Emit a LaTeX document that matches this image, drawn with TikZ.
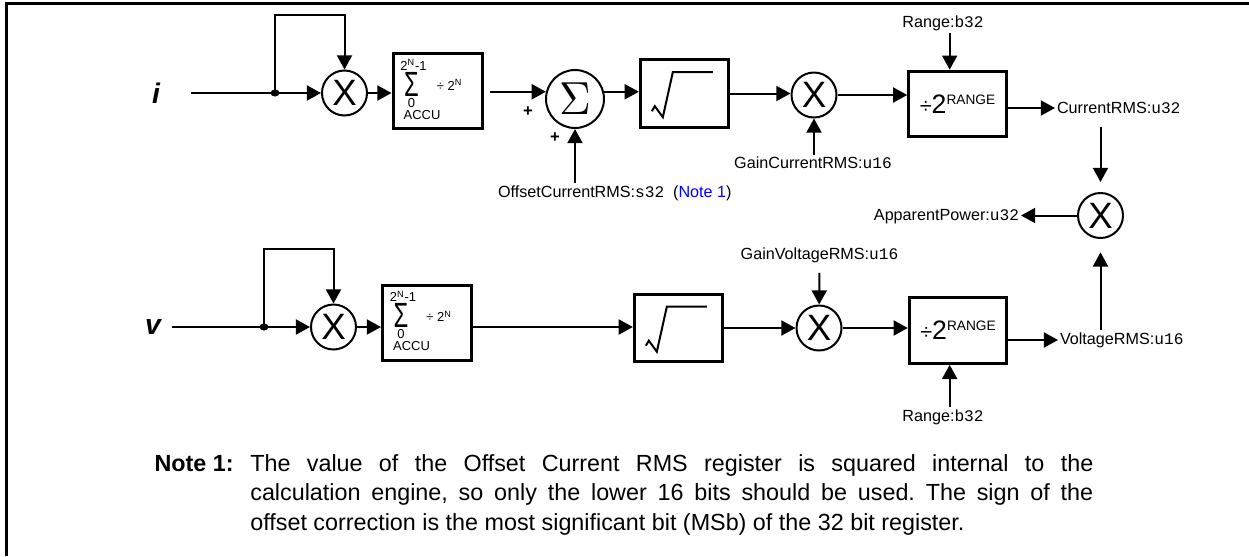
\documentclass[tikz,border=0pt]{standalone}
\usepackage{fontspec}
\setmainfont{Liberation Sans}
\setmonofont{Liberation Mono}
\usepackage{graphicx}
\usetikzlibrary{arrows.meta}

\tikzset{
	wire/.style={line width=1.2pt},
	sig/.style={wire, -{Triangle[length=8.5pt,width=9pt]}},
	mulnode/.style={circle, draw, line width=1.2pt, minimum size=27pt, inner sep=0pt, font=\fontsize{22}{22}\selectfont},
	sumnode/.style={circle, draw, line width=1.2pt, minimum size=34.8pt, inner sep=0pt},
	blk/.style={draw, line width=1.8pt, inner sep=0pt},
	accbox/.style={blk, minimum width=53.4pt, minimum height=45pt},
	rootbox/.style={blk, minimum width=53pt, minimum height=40.6pt},
	rangebox/.style={blk, minimum width=58.5pt, minimum height=39.4pt},
	lbl/.style={font=\fontsize{9.7}{11}\selectfont, inner sep=1pt},
	inlbl/.style={font=\fontsize{17}{17}\selectfont\bfseries\itshape},
	notefont/.style={font=\fontsize{14}{17.7}\selectfont, inner sep=0pt},
}

\newcommand{\accufill}[1]{%
	\begin{scope}[shift={(#1.north west)}, every node/.style={font=\fontsize{7.8}{8}\selectfont, inner sep=0pt}]
		\node (#1-up) at (22,13) {2\textsuperscript{N}-1};
		\node (#1-sum) at (20,32) {\scalebox{0.68}[1]{\fontsize{21}{21}\selectfont Σ}};
		\node (#1-lo) at (20,51) {0};
		\node (#1-div) at (58,33) {÷ 2\textsuperscript{N}};
		\node (#1-name) at (30.5,63) {ACCU};
	\end{scope}}
\newcommand{\rootmark}[1]{%
	\draw[wire, shift={(#1.north west)}] (13,53) -- (16,48) -- (24,59) -- (34,14) -- (74,14);}
\newcommand{\divrange}{{\fontsize{13}{16}\selectfont ÷}{\fontsize{16}{16}\selectfont 2}\raisebox{5.5pt}{\fontsize{8.2}{8}\selectfont RANGE}}

\begin{document}
\begin{tikzpicture}[x=0.6pt, y=-0.6pt]
	\useasboundingbox (0,0) rectangle (1249,556);
	\draw [line width=1.8pt] (6.5,556) -- (6.5,3) -- (1249,3);

	\node [inlbl] (lbli) at (156,93) {i};
	\coordinate (ini) at (191,93);
	\coordinate (dti) at (275,93);
	\node [mulnode] (muli) at (344.5,93) {X};
	\node [accbox] (acci) at (437.5,91) {};
	\accufill{acci}
	\node [sumnode] (sumi) at (575,99) {\resizebox{19pt}{19pt}{$\Sigma$}};
	\node [font=\fontsize{10}{10}\selectfont\bfseries] (pli) at (528,112) {+};
	\node [font=\fontsize{10}{10}\selectfont\bfseries] (plo) at (555,138) {+};
	\node [lbl, anchor=west] (ofs) at (496,193) {OffsetCurrentRMS:\texttt{s32}\hspace{0.55em}(\textcolor{blue}{Note 1})};
	\node [rootbox] (sqi) at (684.5,93.5) {};
	\rootmark{sqi}
	\node [mulnode] (gmi) at (814,95) {X};
	\node [lbl] (gci) at (813,163) {GainCurrentRMS:\texttt{u16}};
	\node [rangebox] (rngi) at (957.5,104) {\divrange};
	\node [lbl] (rgi) at (943,23) {Range:\texttt{b32}};
	\node [lbl, anchor=west] (cri) at (1055,108) {CurrentRMS:\texttt{u32}};

	\node [mulnode] (mulp) at (1100.5,215.5) {X};
	\node [lbl, anchor=east] (app) at (1021,217) {ApparentPower:\texttt{u32}};

	\node [inlbl] (lblv) at (153,327) {v};
	\coordinate (inv) at (172,327);
	\coordinate (dtv) at (264,327);
	\node [mulnode] (mulv) at (333.5,327) {X};
	\node [accbox] (accv) at (427,322.5) {};
	\accufill{accv}
	\node [rootbox] (sqv) at (678.5,328) {};
	\rootmark{sqv}
	\node [mulnode] (gmv) at (819,328) {X};
	\node [lbl] (gvv) at (819.5,255) {GainVoltageRMS:\texttt{u16}};
	\node [rangebox] (rngv) at (958,330.5) {\divrange};
	\node [lbl] (rgv) at (943,417) {Range:\texttt{b32}};
	\node [lbl, anchor=west] (vrv) at (1058,340) {VoltageRMS:\texttt{u16}};

	\draw [sig] (ini) -- (muli);
	\fill (dti) ellipse [x radius=2.7pt, y radius=2.1pt];
	\draw [sig] (dti) -- ++(0,-78) -| (muli);
	\draw [sig] (muli) -- (muli.east -| acci.west);
	\draw [sig] ([xshift=4pt]acci.east |- sumi.166) -- (sumi.166);
	\draw [sig] (ofs.north -| sumi) -- (sumi);
	\draw [sig] (sumi.14) -- (sumi.14 -| sqi.west);
	\draw [sig] (sqi.east) -- (sqi.east -| gmi.west);
	\draw [sig] (gci.north -| gmi) -- (gmi);
	\draw [sig] (gmi) -- (gmi.east -| rngi.west);
	\draw [sig] ([xshift=4pt]rgi.south) -- ([xshift=4pt]rgi.south |- rngi.north);
	\draw [sig] (cri.west -| rngi.east) -- (cri.west);
	\draw [sig, shorten <=6.5pt, shorten >=6pt] (cri.south -| mulp) -- (mulp);
	\draw [sig] (mulp.west) -- (mulp.west -| app.east);

	\draw [sig] (inv) -- (mulv);
	\fill (dtv) ellipse [x radius=2.7pt, y radius=2.1pt];
	\draw [sig] (dtv) -- ++(0,-78) -| (mulv);
	\draw [sig] (mulv) -- (mulv.east -| accv.west);
	\draw [sig] (accv.east |- mulv) -- (mulv -| sqv.west);
	\draw [sig] (sqv.east) -- (sqv.east -| gmv.west);
	\draw [sig, shorten <=5pt] (gvv) -- (gmv);
	\draw [sig] (gmv) -- (gmv.east -| rngv.west);
	\draw [sig] ([xshift=4pt]rgv.north) -- ([xshift=4pt]rgv.north |- rngv.south);
	\draw [sig] (rngv.east |- vrv.west) -- (vrv.west);
	\draw [sig, shorten >=8pt] (vrv.north -| mulp) -- (mulp);

	\node [notefont, font=\fontsize{14}{17.7}\selectfont\bfseries, anchor=base east] (notehd) at (234,471) {Note 1:};
	\node [notefont, anchor=base west, text width=505.8pt, align=justify] (notetxt) at (250,471) {\hbadness=10000\frenchspacing The value of the Offset Current RMS register is squared internal to the\linebreak calculation engine, so only the lower 16 bits should be used. The sign of the\linebreak offset correction is the most significant bit (MSb) of the 32 bit register.};
\end{tikzpicture}
\end{document}
